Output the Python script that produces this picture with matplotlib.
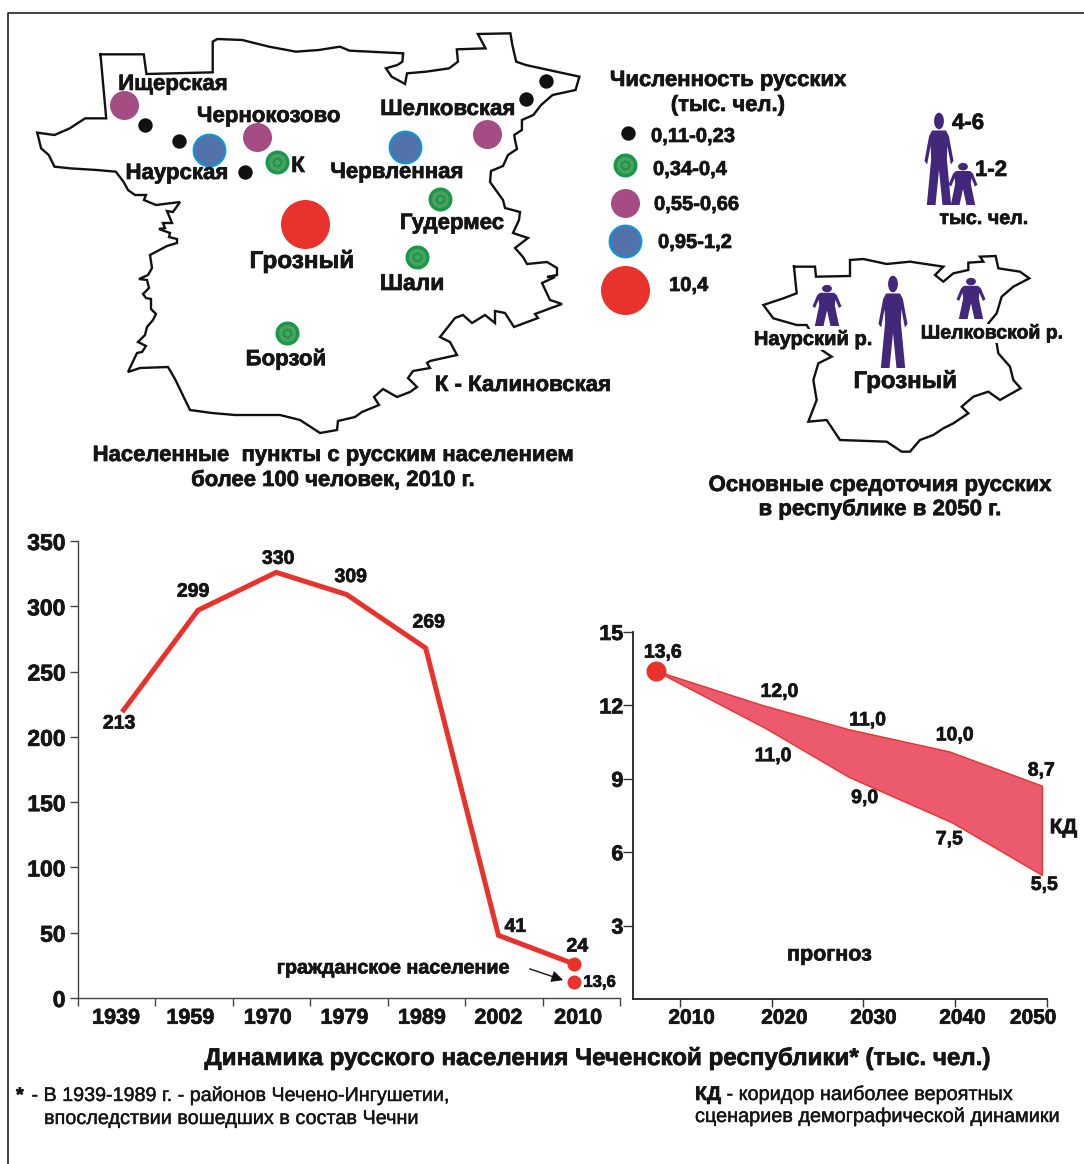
import matplotlib
matplotlib.use('Agg')
import matplotlib.pyplot as plt
import matplotlib.patheffects as pe
from matplotlib.patches import Ellipse, Polygon
from matplotlib.text import Text

plt.rcParams['font.family'] = ['Liberation Sans', 'DejaVu Sans']

W, H = 1084, 1164
RED = '#e8322b'
PURPLE_ICON = '#43277a'

# ---- data ----
years = ['1939', '1959', '1970', '1979', '1989', '2002', '2010']
pop_x = [0.57, 1.55, 2.56, 3.47, 4.49, 5.43, 6.41]
pop_vals = [219, 297, 326, 309, 268, 48, 26]
pop_labels = ['213', '299', '330', '309', '269', '41', '24']
pop_label_off = [(-3, -12), (-5, 18), (2, 13), (4, 17), (3, 25), (17, 8), (3, 17)]
civil_x = 6.40
civil_val = 12
year_label_x = [0.49, 1.45, 2.45, 3.44, 4.44, 5.43, 6.46]

fc_years = ['2010', '2020', '2030', '2040', '2050']
fc_ticks = [2010, 2020, 2030, 2040, 2050]
fc_label_x = [2011.3, 2021.4, 2031.1, 2040.8, 2048.5]
fc_start = (2007.4, 13.4)
fc_top_x = [2019.0, 2028.5, 2039.4, 2049.5]
fc_top = [12.0, 11.0, 10.1, 8.7]
fc_low_x = [2019.4, 2028.5, 2039.7, 2049.5]
fc_low = [11.05, 9.05, 7.2, 5.05]
fc_top_labels = ['12,0', '11,0', '10,0', '8,7']
fc_low_labels = ['11,0', '9,0', '7,5', '5,5']
fc_top_off = [(17, 13), (18, 9), (5, 16), (-1, 15)]
fc_low_off = [(7, -28), (15, -21), (-3, -17), (2, -10)]

# settlements on the big map, in picture pixels
small_pts = [(145, 125), (179, 141), (245, 172), (526, 99), (546, 81)]
green_pts = [(277, 162), (440, 199), (417, 257), (287, 333)]
purple_pts = [(124, 105), (257, 137), (487, 134)]
blue_pts = [(209, 150), (405, 147)]
red_pts = [(305, 224)]

legend_vals = ['0,11-0,23', '0,34-0,4', '0,55-0,66', '0,95-1,2', '10,4']

# north of the big map, zoomed crop coordinates
outline_north = [(210,103),(323,103),(330,162),(503,157),(503,65),(515,57),(580,60),(650,80),(720,95),
    (780,90),(835,80),(860,92),(1000,100),(998,125),(985,135),(955,145),(970,170),(1005,192),(1010,160),
    (1060,155),(1120,145),(1143,125),(1140,88),(1215,85),(1195,42),(1280,40),(1285,75),(1295,125),(1320,135),
    (1400,155),(1460,170),(1450,210),(1390,225),(1360,255),(1340,285),(1310,300),(1310,330),(1290,345)]
# east, south-east, south and west, picture pixels
outline_south = [(515,140),(517,149),(508,155),(503,166),(491,171),(490,182),(503,200),(505,208),(520,212),(519,220),
    (513,233),(528,238),(515,248),(523,257),(527,264),(547,262),(557,268),(557,275),(547,277),(555,277),(542,283),
    (550,300),(562,304),(535,314),(538,318),(514,327),(505,313),(495,311),(495,323),(485,315),(472,323),(463,315),
    (455,318),(440,337),(450,342),(457,355),(430,361),(427,363),(430,368),(413,371),(408,378),(417,387),(410,392),
    (397,397),(383,389),(374,397),(379,405),(362,412),(355,417),(338,421),(337,430),(320,433),(300,420),(280,415),
    (235,415),(212,413),(190,410),(175,379),(168,367),(140,368),(128,372),(137,353),(142,352),(146,346),(138,342),
    (145,335),(147,327),(153,320),(156,314),(151,309),(151,299),(146,298),(143,294),(149,288),(147,280),(139,279),
    (148,275),(152,268),(150,255),(167,246),(177,243),(177,239),(169,237),(170,233),(159,229),(165,228),(163,223),
    (172,223),(167,211),(173,212),(180,202),(156,205),(144,200),(146,195),(135,195),(128,190)]
# west tail of the big map, zoomed crop coordinates
outline_tail = [(270,485),(250,455),(200,450),(130,445),(90,440),(75,405),(55,385),(45,338),(90,345),(130,325),
    (170,295),(225,295)]

outline2 = [(582,620),(645,620),(648,650),(750,648),(750,600),(790,597),(860,612),(930,605),(1030,620),(1005,645),
    (1030,665),(1060,640),(1105,630),(1105,608),(1150,605),(1140,590),(1187,588),(1195,625),(1260,635),(1288,655),
    (1240,680),(1205,710),(1190,760),(1165,790),(1190,850),(1195,880),(1230,920),(1240,960),(1262,985),(1200,1020),
    (1165,995),(1120,1010),(1085,1040),(1105,1060),(1060,1090),(1030,1105),(1000,1125),(960,1140),(930,1175),
    (905,1175),(860,1145),(720,1140),(680,1080),(625,1085),(650,1020),(640,960),(655,910),(695,890),(665,870),
    (620,795),(590,795),(520,775),(490,735),(550,715),(590,700)]

person_shape = [(-.24,.19),(.24,.19),(.34,.25),(.5,.52),(.41,.56),(.29,.36),(.27,.5),(.42,1.0),(.12,1.0),(0,.62),
    (-.12,1.0),(-.42,1.0),(-.27,.5),(-.29,.36),(-.41,.56),(-.5,.52),(-.34,.25)]

fig = plt.figure(figsize=(W / 100, H / 100), dpi=100)
bg = fig.add_axes([0, 0, 1, 1])
bg.set_xlim(0, W)
bg.set_ylim(H, 0)
bg.axis('off')


def px(r):
    # scatter size for a circle of radius r pixels
    return (2 * r * 0.72) ** 2


def label(x, y, s, size=16, ha='center', weight='bold', **kw):
    # text sits a little high with va=center, hence the 1.5
    bg.text(x, y + 1.5, s, fontsize=size, ha=ha, va='center', fontweight=weight, color='#151515', zorder=6, **kw)


def draw_dots(pts, kind):
    xs = [p[0] for p in pts]
    ys = [p[1] for p in pts]
    if kind == 'small':
        bg.scatter(xs, ys, s=px(7.2), c='#111111', linewidths=0, zorder=4)
    elif kind == 'green':
        bg.scatter(xs, ys, s=px(12), c='#17984a', linewidths=0, zorder=4)
        bg.scatter(xs, ys, s=px(8.5), c='#4f9f5f', linewidths=0, zorder=4)
        bg.scatter(xs, ys, s=px(5), c='#17984a', linewidths=0, zorder=4)
        bg.scatter(xs, ys, s=px(2.8), c='#4f9f5f', linewidths=0, zorder=4)
    elif kind == 'purple':
        bg.scatter(xs, ys, s=px(14.5), c='#a54c84', linewidths=0, zorder=4)
    elif kind == 'blue':
        bg.scatter(xs, ys, s=px(15.8), c='#5372aa', edgecolors='#0f95d2', linewidths=1.6, zorder=4)
    else:
        bg.scatter(xs, ys, s=px(24.5), c=RED, linewidths=0, zorder=4)


def person(cx, top, bottom, w=29):
    h = bottom - top
    pts = [(cx + a * w, top + b * h) for a, b in person_shape]
    bg.add_patch(Polygon(pts, closed=True, fc=PURPLE_ICON, ec='none', zorder=4))
    bg.add_patch(Ellipse((cx, top + 0.087 * h), 0.34 * w, 0.18 * h, fc=PURPLE_ICON, ec='none', zorder=4))


# frame
bg.plot([8, 8, W], [H, 12.5, 12.5], color='#222222', lw=1.2)

# big map
xs = [20 + p[0] / 2.61 for p in outline_north] + [p[0] for p in outline_south] + [20 + p[0] / 2.61 for p in outline_tail]
ys = [20 + p[1] / 3 for p in outline_north] + [p[1] for p in outline_south] + [20 + p[1] / 3 for p in outline_tail]
bg.plot(xs + xs[:1], ys + ys[:1], color='#111111', lw=1.7, solid_joinstyle='miter')
draw_dots(small_pts, 'small')
draw_dots(green_pts, 'green')
draw_dots(purple_pts, 'purple')
draw_dots(blue_pts, 'blue')
draw_dots(red_pts, 'red')

label(173, 83, 'Ищерская')
label(269, 115, 'Чернокозово')
label(448, 108, 'Шелковская')
label(177, 172, 'Наурская')
label(397, 171, 'Червленная')
label(298, 165, 'К')
label(452, 222, 'Гудермес')
label(302, 260, 'Грозный', 17.5)
label(412, 282, 'Шали', 16.5)
label(286, 358, 'Борзой')
label(523, 384, 'К - Калиновская')
label(333, 454, 'Населенные  пункты с русским населением', 15.9)
label(333, 479, 'более 100 человек, 2010 г.', 15.9)

# legend of the big map
label(728, 79, 'Численность русских', 15.9)
label(728, 104, '(тыс. чел.)', 15.9)
draw_dots([(628, 133)], 'small')
draw_dots([(625, 165)], 'green')
draw_dots([(625, 203)], 'purple')
draw_dots([(625, 241)], 'blue')
draw_dots([(625, 290)], 'red')
for lx, ly, s in zip([651, 653, 654, 658, 669], [135, 168, 203, 241, 284], legend_vals):
    label(lx, ly, s, 14.5, ha='left')

# small map
xs = [600 + p[0] / 3 for p in outline2] + [600 + outline2[0][0] / 3]
ys = [60 + p[1] / 3 for p in outline2] + [60 + outline2[0][1] / 3]
bg.plot(xs, ys, color='#111111', lw=1.7, solid_joinstyle='miter')
person(939, 113, 205)
person(963, 163, 205)
person(827, 285, 326)
person(971, 278, 319)
person(893, 276, 368)
label(968, 122, '4-6', 16)
label(991, 169, '1-2', 16)
label(984, 217, 'тыс. чел.', 14.2)
label(813, 338, 'Наурский р.', 14.5, bbox=dict(fc='white', ec='none', pad=0.5))
label(992, 332, 'Шелковской р.', 14, bbox=dict(fc='white', ec='none', pad=0.5))
label(905, 380, 'Грозный', 17.3)
label(880, 484, 'Основные средоточия русских', 16)
label(880, 508, 'в республике в 2050 г.', 16)

# ---- left chart ----
ax = fig.add_axes([78 / W, 1 - 998 / H, (620 - 78) / W, (998 - 541) / H])
ax.patch.set_alpha(0)
ax.plot(pop_x, pop_vals, color=RED, lw=3.6, solid_joinstyle='miter', solid_capstyle='butt')
ax.scatter([pop_x[-1], civil_x], [pop_vals[-1], civil_val], s=px(7), c=RED, linewidths=0, zorder=4, clip_on=False)
for x, v, s, off in zip(pop_x, pop_vals, pop_labels, pop_label_off):
    ax.annotate(s, (x, v), xytext=off, textcoords='offset pixels', ha='center', va='center',
                fontsize=14, fontweight='bold', color='#151515')
ax.annotate('13,6', (civil_x, civil_val), xytext=(26, 0), textcoords='offset pixels', ha='center', va='center',
            fontsize=12, fontweight='bold', color='#151515')
ax.annotate('', xy=(civil_x - 0.1, civil_val + 1), xytext=(5.8, 23),
            arrowprops=dict(arrowstyle='-|>', color='#111111', lw=1, mutation_scale=17))
ax.text(4.07, 23, 'гражданское население', fontsize=14.2, fontweight='bold', ha='center', va='center', color='#151515')
ax.set_xlim(0, 7)
ax.set_ylim(0, 350)
ax.set_yticks(range(0, 351, 50))
ax.set_xticks(range(0, 8))
ax.set_xticklabels([])
ax.set_xticks(year_label_x, labels=years, minor=True)
ax.tick_params(axis='x', which='major', length=6, width=1, color='#444444', direction='out')
ax.tick_params(axis='x', which='minor', length=0, pad=7, labelsize=15.5)
ax.tick_params(axis='y', length=6, width=1, color='#444444', pad=3, labelsize=16.5)
for t in ax.get_xticklabels(minor=True) + ax.get_yticklabels():
    t.set_fontweight('bold')
    t.set_color('#151515')
for sp in ['top', 'right']:
    ax.spines[sp].set_visible(False)
for sp in ['left', 'bottom']:
    ax.spines[sp].set_color('#444444')
    ax.spines[sp].set_linewidth(1)

# ---- right chart ----
ax2 = fig.add_axes([633 / W, 1 - 999 / H, (1047 - 633) / W, (999 - 632) / H])
ax2.patch.set_alpha(0)
band_x = [fc_start[0]] + fc_top_x + fc_low_x[::-1]
band_y = [fc_start[1]] + fc_top + fc_low[::-1]
ax2.fill(band_x, band_y, fc='#ec5a6e', ec=RED, lw=1)
ax2.scatter([fc_start[0]], [fc_start[1]], s=px(10), c=RED, linewidths=0, zorder=4)
ax2.annotate('13,6', fc_start, xytext=(7, 18), textcoords='offset pixels', ha='center', va='center',
             fontsize=14, fontweight='bold', color='#151515')
for x, v, s, off in zip(fc_top_x + fc_low_x, fc_top + fc_low, fc_top_labels + fc_low_labels, fc_top_off + fc_low_off):
    ax2.annotate(s, (x, v), xytext=off, textcoords='offset pixels', ha='center', va='center',
                 fontsize=14, fontweight='bold', color='#151515')
ax2.annotate('КД', (fc_top_x[-1], 7.0), xytext=(21, 0), textcoords='offset pixels', ha='center', va='center',
             fontsize=15, fontweight='bold', color='#151515', annotation_clip=False)
ax2.text(2026.3, 1.8, 'прогноз', fontsize=15.5, fontweight='bold', ha='center', va='center', color='#151515')
ax2.set_xlim(2004.9, 2050)
ax2.set_ylim(0, 15)
ax2.set_yticks([3, 6, 9, 12, 15])
ax2.set_xticks(fc_ticks)
ax2.set_xticklabels([])
ax2.set_xticks(fc_label_x, labels=fc_years, minor=True)
ax2.tick_params(axis='x', which='major', length=6, width=1, color='#333333', direction='out')
ax2.tick_params(axis='x', which='minor', length=0, pad=7, labelsize=15)
ax2.tick_params(axis='y', length=7, width=1, color='#333333', pad=0, labelsize=15.5)
for t in ax2.get_xticklabels(minor=True) + ax2.get_yticklabels():
    t.set_fontweight('bold')
    t.set_color('#151515')
for sp in ['top', 'right']:
    ax2.spines[sp].set_visible(False)
for sp in ['left', 'bottom']:
    ax2.spines[sp].set_color('#222222')
    ax2.spines[sp].set_linewidth(1.3)

# bottom texts
label(597, 1057, 'Динамика русского населения Чеченской республики* (тыс. чел.)', 17.4)
label(16, 1094, '*', 14.2, ha='left')
label(26, 1094, ' - В 1939-1989 г. - районов Чечено-Ингушетии,', 14.2, ha='left', weight='normal')
label(44, 1117, 'впоследствии вошедших в состав Чечни', 14.3, ha='left', weight='normal')
label(695, 1093, 'КД', 14.2, ha='left')
label(721, 1093, ' - коридор наиболее вероятных', 14.3, ha='left', weight='normal')
label(695, 1115, 'сценариев демографической динамики', 14.3, ha='left', weight='normal')

# the scanned text is heavier than the font
for t in fig.findobj(Text):
    if t.get_fontweight() == 'bold':
        t.set_path_effects([pe.withStroke(linewidth=0.5, foreground='#151515')])
    else:
        t.set_path_effects([pe.withStroke(linewidth=0.3, foreground='#151515')])

fig.savefig('out.png', dpi=100, facecolor='white')
